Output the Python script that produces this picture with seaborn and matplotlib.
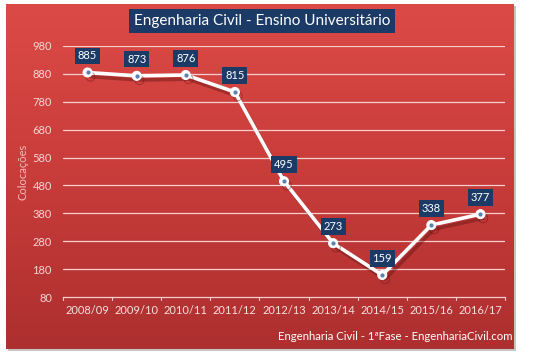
import numpy as np
import pandas as pd
import matplotlib
matplotlib.use("Agg")
import matplotlib.pyplot as plt
import matplotlib.patheffects as pe
from matplotlib.colors import LinearSegmentedColormap
import seaborn as sns

years = ["2008/09", "2009/10", "2010/11", "2011/12", "2012/13", "2013/14", "2014/15", "2015/16", "2016/17"]
values = [885, 873, 876, 815, 495, 273, 159, 338, 377]
yticks = [80, 180, 280, 380, 480, 580, 680, 780, 880, 980]

sns.set_theme(style="white")
plt.rcParams['font.family'] = ['Lato', 'DejaVu Sans']

W, H = 540, 358
fig = plt.figure(figsize=(W / 100, H / 100), dpi=100, facecolor="white")

# shadow of panel
sh = fig.add_axes([8 / W, 1 - 351 / H, 508 / W, 345 / H])
sh.set_facecolor("#c4c4c4")
sh.set_xticks([]); sh.set_yticks([])
for s in sh.spines.values():
    s.set_visible(False)

# gradient background panel
bg = fig.add_axes([6 / W, 1 - 349 / H, 508 / W, 345 / H])
grad = np.linspace(0, 1, 256)[:, None]
cmap = LinearSegmentedColormap.from_list("bg", ["#dc4a46", "#c83c3a", "#ad2f2f"])
bg.imshow(grad, aspect="auto", cmap=cmap, extent=[0, 1, 0, 1])
bg.set_xticks([]); bg.set_yticks([])
for s in bg.spines.values():
    s.set_visible(False)

ax = fig.add_axes([63 / W, 1 - 297 / H, (505 - 63) / W, (297 - 46) / H])
ax.patch.set_alpha(0)

df = pd.DataFrame({"year": years, "value": values})
df["pos"] = np.arange(len(years))

for yv in yticks[1:]:
    ax.axhline(yv, color="#f3d0cf", lw=0.9, zorder=1)

sns.lineplot(data=df, x="pos", y="value", ax=ax, color="white", lw=2.6, sort=False,
             marker="o", markersize=6.5, markerfacecolor="white", markeredgecolor="white",
             zorder=3,
             path_effects=[pe.SimpleLineShadow(offset=(2, -3), shadow_color="#5a1010", alpha=0.4),
                           pe.Normal()])
ax.scatter(df["pos"], df["value"], s=4, color="#5a7fb0", zorder=4)

for x, v in zip(df["pos"], values):
    ax.annotate(str(v), (x, v), xytext=(0, 12), textcoords="offset points",
                ha="center", va="center", color="white", fontsize=8,
                bbox=dict(boxstyle="square,pad=0.25", fc="#1b3a66", ec="none"), zorder=5)

ax.set_xlim(-0.5, len(years) - 0.5)
ax.set_ylim(80, 980)
ax.set_yticks(yticks)
ax.set_yticklabels([str(t) for t in yticks], color="#f5d6d5", fontsize=8)
ax.set_xticks(df["pos"])
ax.set_xticklabels(years, color="#f7e0df", fontsize=8)
ax.tick_params(axis="y", length=0, pad=8)
ax.tick_params(axis="x", length=0, pad=6)
for b in np.arange(-0.5, len(years), 1):
    ax.plot([b, b], [80, 80 - 10], color="#f3d0cf", lw=0.8, clip_on=False, zorder=2)
for s in ["top", "right", "left"]:
    ax.spines[s].set_visible(False)
ax.spines["bottom"].set_color("#f3d0cf")
ax.spines["bottom"].set_linewidth(0.9)
ax.set_xlabel("")
ax.set_ylabel("Colocações", color="#f2bdbb", fontsize=8)
ax.yaxis.set_label_coords(-0.077, 0.5)

fig.text(262 / W, 1 - 21 / H, "Engenharia Civil - Ensino Universitário", ha="center", va="center",
         color="white", fontsize=11,
         bbox=dict(boxstyle="square,pad=0.3", fc="#1b3a66", ec="none"))
fig.text(512 / W, 1 - 337 / H, "Engenharia Civil - 1ªFase - EngenhariaCivil.com", ha="right",
         va="center", color="white", fontsize=8.2)

fig.savefig("out.png", dpi=100, facecolor="white")
